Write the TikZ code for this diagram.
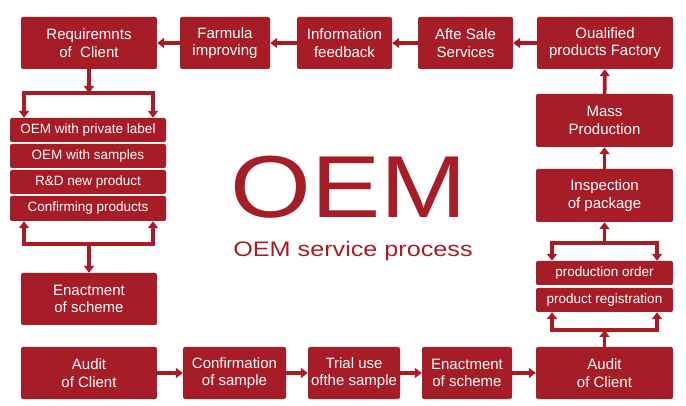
\documentclass[tikz,border=0pt]{standalone}
\usepackage{fontspec}
\setmainfont{Liberation Sans}
\usetikzlibrary{arrows.meta}
\definecolor{oemred}{RGB}{166,29,39}
\tikzset{
  box/.style={fill=oemred, rounded corners=2pt, text=white, align=center, inner sep=0pt,
    font=\fontsize{15}{17.5}\selectfont},
  bigbox/.style={box, minimum height=52pt},
  smallbox/.style={box, minimum height=24pt, font=\fontsize{13.5}{15}\selectfont},
  conn/.style={draw=oemred, line width=3.6pt, -{Triangle[length=7pt,width=10pt]}},
  conn2/.style={draw=oemred, line width=3.6pt, {Triangle[length=7pt,width=10pt]}-{Triangle[length=7pt,width=10pt]}},
}
\begin{document}
\begin{tikzpicture}[x=1pt,y=-1pt]
\useasboundingbox (0,0) rectangle (686,406);
% top row
\node[bigbox, minimum width=136pt] (req) at (89,43) {Requiremnts\\of\ \ Client};
\node[bigbox, minimum width=90pt] (farm) at (225,43) {Farmula\\improving};
\node[bigbox, minimum width=95pt] (info) at (344.5,43) {Information\\feedback};
\node[bigbox, minimum width=95pt] (after) at (465.5,43) {Afte Sale\\Services};
\node[bigbox, minimum width=136pt] (qual) at (605,43) {Oualified\\products Factory};
% right column
\node[bigbox, minimum width=137pt, minimum height=53pt] (mass) at (604.5,120.5) {Mass\\Production};
\node[bigbox, minimum width=137pt, minimum height=53pt] (insp) at (604.5,195.5) {Inspection\\of package};
\node[smallbox, minimum width=137pt] (porder) at (604.5,273) {production order};
\node[smallbox, minimum width=137pt] (preg) at (604.5,300) {product registration};
% bottom row
\node[bigbox, minimum width=137pt] (audit2) at (604.5,373) {Audit\\of Client};
\node[bigbox, minimum width=90pt] (enact2) at (467,373) {Enactment\\of scheme};
\node[bigbox, minimum width=92pt] (trial) at (354,373) {Trial use\\ofthe sample};
\node[bigbox, minimum width=103pt] (conf) at (234.5,373) {Confirmation\\of sample};
\node[bigbox, minimum width=136pt] (audit1) at (89,373) {Audit\\of Client};
% left column
\node[bigbox, minimum width=136pt] (enact1) at (89,299) {Enactment\\of scheme};
\node[smallbox, minimum width=156pt] (oem1) at (88,130) {OEM with private label};
\node[smallbox, minimum width=156pt] (oem2) at (88,156) {OEM with samples};
\node[smallbox, minimum width=156pt] (oem3) at (88,182) {R\&D new product};
\node[smallbox, minimum width=156pt, minimum height=25pt] (oem4) at (88,208.5) {Confirming products};
% centre title
\node[text=oemred, anchor=base, inner sep=0pt, xscale=1.18, font=\fontsize{88}{88}\selectfont] (title) at (349,218) {OEM};
\node[text=oemred, anchor=base, inner sep=0pt, xscale=1.2, font=\fontsize{21}{21}\selectfont] (subtitle) at (353,257) {OEM service process};
% coordinates
\coordinate (lt) at (89,93);
\coordinate (ltl) at (24,93);
\coordinate (ltr) at (153,93);
\coordinate (lb) at (89,244);
\coordinate (lbl) at (24,244);
\coordinate (lbr) at (153,244);
\coordinate (rt) at (604.5,243);
\coordinate (rtl) at (552,243);
\coordinate (rtr) at (657,243);
\coordinate (rb) at (604.5,330);
\coordinate (rbl) at (552,330);
\coordinate (rbr) at (657,330);
% top row arrows
\draw[conn] (qual) -- (after);
\draw[conn] (after) -- (info);
\draw[conn] (info) -- (farm);
\draw[conn] (farm) -- (req);
% left column
\draw[conn] (req.south) -- (lt);
\draw[conn2] (ltl |- oem1.north) -- (ltl) -- (ltr) -- (ltr |- oem1.north);
\draw[conn2] (lbl |- oem4.south) -- (lbl) -- (lbr) -- (lbr |- oem4.south);
\draw[conn] (lb) -- (enact1.north);
% bottom row
\draw[conn] (audit1) -- (conf);
\draw[conn] (conf) -- (trial);
\draw[conn] (trial) -- (enact2);
\draw[conn] (enact2) -- (audit2);
% right column
\draw[conn] (audit2.north) -- (rb);
\draw[conn2] (rbl |- preg.south) -- (rbl) -- (rbr) -- (rbr |- preg.south);
\draw[conn2] (rtl |- porder.north) -- (rtl) -- (rtr) -- (rtr |- porder.north);
\draw[conn] (rt) -- (insp.south);
\draw[conn] (insp) -- (mass);
\draw[conn] (mass) -- (qual);
\end{tikzpicture}
\end{document}
